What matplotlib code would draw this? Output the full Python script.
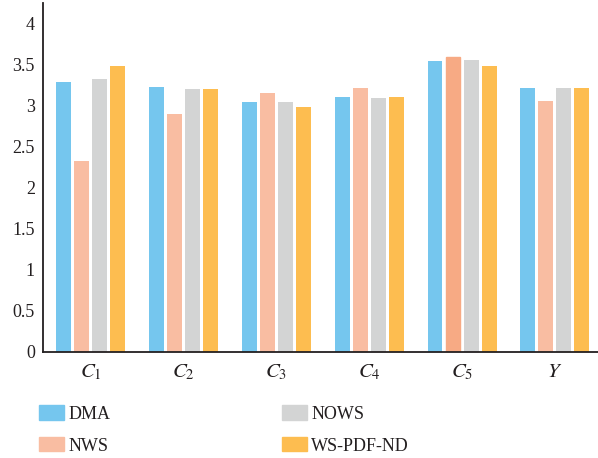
import numpy as np
import matplotlib.pyplot as plt
from matplotlib.patches import Patch

plt.rcParams['font.family'] = 'Liberation Serif'
plt.rcParams['mathtext.fontset'] = 'stix'

categories = ['$C_1$', '$C_2$', '$C_3$', '$C_4$', '$C_5$', '$Y$']
dma = [3.29, 3.23, 3.04, 3.11, 3.55, 3.22]
nws = [2.32, 2.90, 3.15, 3.21, 3.60, 3.06]
nows = [3.32, 3.20, 3.05, 3.09, 3.56, 3.21]
wspdf = [3.48, 3.20, 2.99, 3.11, 3.48, 3.21]

names = ['DMA', 'NWS', 'NOWS', 'WS-PDF-ND']
colors = ['#75c6ee', '#f9bda2', '#d3d4d4', '#fdbd50']

fig = plt.figure(figsize=(5.98, 4.58), dpi=100)
ax = fig.add_axes([0.0724, 0.232, 0.93, 0.761])

x = np.arange(len(categories))
w = 0.161
step = 0.194
series = [dma, nws, nows, wspdf]
for i, vals in enumerate(series):
    bars = ax.bar(x + (i - 1.5) * step, vals, width=w, color=colors[i])
    if i == 1:
        bars[4].set_color('#f7aa84')  # C5 NWS bar is a bit darker

ax.set_xlim(-0.51, 5.48)
ax.set_ylim(0, 4.25)
ax.set_yticks([0, 0.5, 1, 1.5, 2, 2.5, 3, 3.5, 4])
ax.set_yticklabels(['0', '0.5', '1', '1.5', '2', '2.5', '3', '3.5', '4'])
ax.set_xticks(x)
ax.set_xticklabels(categories, fontsize=15)
ax.tick_params(axis='both', length=0, labelsize=13, colors='#231f20')
ax.tick_params(axis='x', pad=8, labelsize=15)
ax.tick_params(axis='y', pad=6)
for s in ['top', 'right']:
    ax.spines[s].set_visible(False)
for s in ['left', 'bottom']:
    ax.spines[s].set_linewidth(1.3)
    ax.spines[s].set_color('#231f20')

handles = [Patch(color=c) for c in colors]
fig.legend(handles, names, loc='upper left', bbox_to_anchor=(0.05, 0.135),
           ncol=2, frameon=False, fontsize=13, handlelength=1.38,
           handleheight=0.85, handletextpad=0.25, columnspacing=9.5,
           labelspacing=0.8, borderpad=0, labelcolor='#231f20')

plt.savefig('out.png', dpi=100)
